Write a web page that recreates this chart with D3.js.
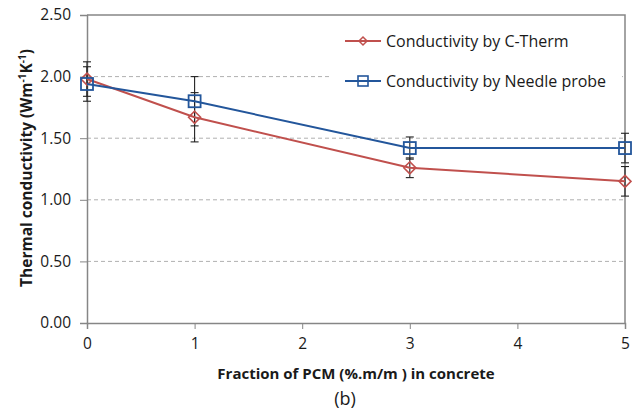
<!DOCTYPE html>
<html><head><meta charset="utf-8">
<script src="https://cdn.jsdelivr.net/npm/d3@7"></script>
<style>body{margin:0;background:#fff}svg{display:block}</style>
</head><body>
<svg id="c" width="632" height="413"></svg>
<script>
const fractions = [0, 1, 3, 5];
const ctherm = [1.98, 1.67, 1.26, 1.15];
const cthermErr = [0.14, 0.20, 0.08, 0.12];
const needle = [1.94, 1.80, 1.42, 1.42];
const needleErr = [0.14, 0.20, 0.09, 0.12];
const yTicks = [0, 0.5, 1.0, 1.5, 2.0, 2.5];
const xTicks = [0, 1, 2, 3, 4, 5];
const seriesNames = ["Conductivity by C-Therm", "Conductivity by Needle probe"];
const colors = ["#c0504d", "#23569b"];

const svg = d3.select("#c");
const font = "'Open Sans', 'Liberation Sans', sans-serif";
const L = 87, R = 625, T = 15, B = 323;
const x = d3.scaleLinear().domain([0, 5]).range([L, R]);
const y = d3.scaleLinear().domain([0, 2.5]).range([B, T]);
const axisCol = "#868686";

// gridlines
svg.append("g").selectAll("line").data(yTicks.filter(d => d > 0 && d < 2.5)).join("line")
  .attr("x1", L).attr("x2", R).attr("y1", d => y(d)).attr("y2", d => y(d))
  .attr("stroke", "#b0b0b0").attr("stroke-dasharray", "4,3").attr("stroke-width", 1);

// border top/right
svg.append("path").attr("d", `M${L},${T}H${R}V${B}`).attr("fill", "none").attr("stroke", axisCol).attr("stroke-width", 1.5);

// legend background
svg.append("rect").attr("x", 332).attr("y", 22).attr("width", 290).attr("height", 78).attr("fill", "#fff");

// axes
const yAxis = d3.axisLeft(y).tickValues(yTicks).tickFormat(d3.format(".2f")).tickSize(7).tickPadding(9);
const gy = svg.append("g").attr("transform", `translate(${L},0)`).call(yAxis);
const xAxis = d3.axisBottom(x).tickValues(xTicks).tickFormat(d3.format("d")).tickSize(6).tickPadding(9);
const gx = svg.append("g").attr("transform", `translate(0,${B})`).call(xAxis);
[gy, gx].forEach(g => {
  g.select(".domain").attr("stroke", axisCol).attr("stroke-width", 1.5);
  g.selectAll(".tick line").attr("stroke", axisCol);
  g.selectAll("text").attr("font-family", font).attr("font-size", 15.5).attr("fill", "#1a1a1a");
});

const series = [
  {vals: ctherm, err: cthermErr, col: colors[0], shape: "diamond"},
  {vals: needle, err: needleErr, col: colors[1], shape: "square"}
];

// error bars
series.forEach(s => {
  const g = svg.append("g").attr("stroke", "#222").attr("stroke-width", 1.1);
  fractions.forEach((f, i) => {
    const cx = x(f), y1 = y(s.vals[i] + s.err[i]), y2 = y(s.vals[i] - s.err[i]);
    g.append("line").attr("x1", cx).attr("x2", cx).attr("y1", y1).attr("y2", y2);
    g.append("line").attr("x1", cx - 4).attr("x2", cx + 4).attr("y1", y1).attr("y2", y1);
    g.append("line").attr("x1", cx - 4).attr("x2", cx + 4).attr("y1", y2).attr("y2", y2);
  });
});

const line = d3.line().x((d, i) => x(fractions[i])).y(d => y(d));
function marker(g, shape, cx, cy, col) {
  if (shape === "square") {
    g.append("rect").attr("x", cx - 6).attr("y", cy - 6).attr("width", 12).attr("height", 12)
      .attr("fill", "none").attr("stroke", col).attr("stroke-width", 1.8);
  } else {
    g.append("path").attr("d", `M${cx},${cy - 6}L${cx + 6},${cy}L${cx},${cy + 6}L${cx - 6},${cy}Z`)
      .attr("fill", "none").attr("stroke", col).attr("stroke-width", 1.6);
  }
}
series.forEach(s => {
  svg.append("path").datum(s.vals).attr("d", line).attr("fill", "none")
    .attr("stroke", s.col).attr("stroke-width", 2);
  const g = svg.append("g");
  s.vals.forEach((v, i) => marker(g, s.shape, x(fractions[i]), y(v), s.col));
});

// legend
seriesNames.forEach((name, i) => {
  const ly = 41 + i * 40;
  svg.append("line").attr("x1", 345).attr("x2", 381).attr("y1", ly).attr("y2", ly)
    .attr("stroke", series[i].col).attr("stroke-width", 2);
  const g = svg.append("g");
  if (series[i].shape === "square") {
    g.append("rect").attr("x", 358).attr("y", ly - 5).attr("width", 10).attr("height", 10)
      .attr("fill", "none").attr("stroke", series[i].col).attr("stroke-width", 1.6);
  } else {
    g.append("path").attr("d", `M363,${ly - 4}L367,${ly}L363,${ly + 4}L359,${ly}Z`)
      .attr("fill", "none").attr("stroke", series[i].col).attr("stroke-width", 1.5);
  }
  svg.append("text").attr("x", 386).attr("y", ly).attr("dy", "0.35em")
    .attr("font-family", font).attr("font-size", 16).attr("fill", "#1a1a1a").text(name);
});

// axis titles
svg.append("text").attr("x", 356).attr("y", 379).attr("text-anchor", "middle")
  .attr("font-family", font).attr("font-size", 15).attr("font-weight", "bold").attr("fill", "#1a1a1a")
  .text("Fraction of PCM (%.m/m ) in concrete");
svg.append("text").attr("x", 345).attr("y", 405).attr("text-anchor", "middle")
  .attr("font-family", font).attr("font-size", 18).attr("fill", "#1a1a1a").text("(b)");

const yt = svg.append("text").attr("transform", "translate(32,168) rotate(-90)").attr("text-anchor", "middle")
  .attr("font-family", font).attr("font-size", 15.5).attr("font-weight", "bold").attr("fill", "#1a1a1a");
yt.append("tspan").text("Thermal conductivity (Wm");
yt.append("tspan").attr("font-size", 10).attr("dy", -6).text("-1");
yt.append("tspan").attr("dy", 6).text("K");
yt.append("tspan").attr("font-size", 10).attr("dy", -6).text("-1");
yt.append("tspan").attr("dy", 6).text(")");
</script>
</body></html>
